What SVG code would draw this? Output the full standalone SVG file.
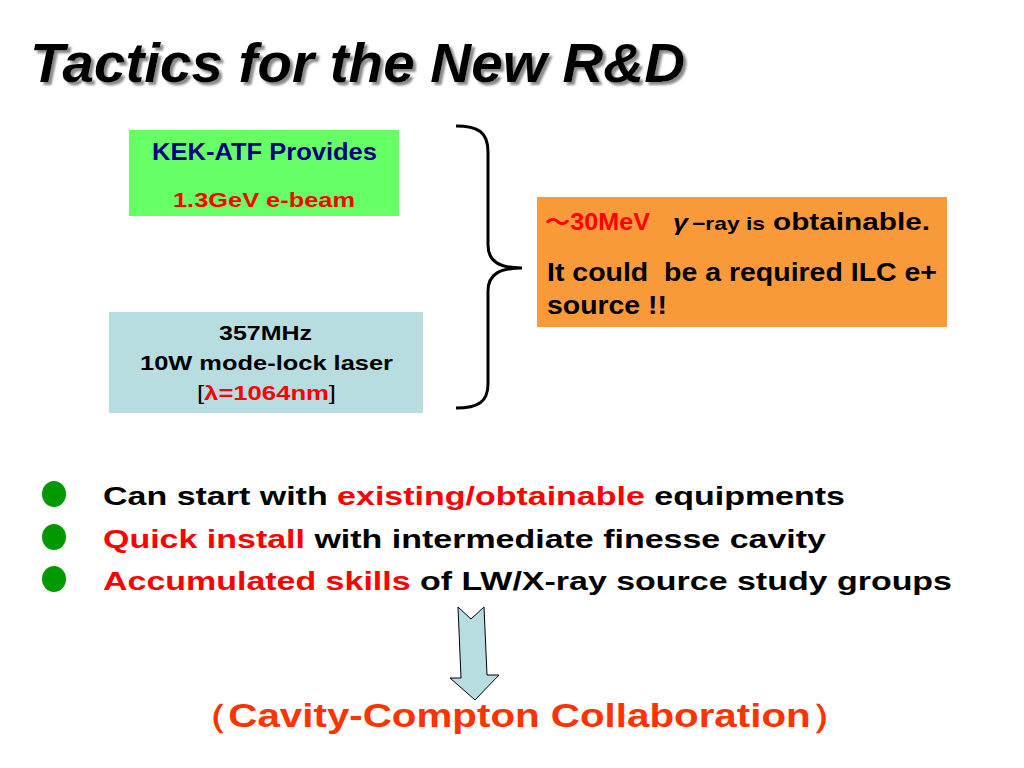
<svg xmlns="http://www.w3.org/2000/svg" width="1024" height="768" viewBox="0 0 1024 768">
<defs>
<filter id="shadow" x="-5%" y="-20%" width="110%" height="140%">
<feDropShadow dx="3" dy="3" stdDeviation="0.8" flood-color="#8a8a8a" flood-opacity="1"/>
</filter>
</defs>
<style>
text{font-family:"Liberation Sans",Arial,sans-serif;font-weight:bold}
.red{fill:#FF0000}
.bul{fill:#009900}
.lst{font-size:26px}
.box{font-size:21px}
.org{font-size:25px}
</style>
<rect width="1024" height="768" fill="#fff"/>
<g id="title">
<text x="30" y="82" font-size="56" font-style="italic" fill="#000" filter="url(#shadow)" textLength="655" lengthAdjust="spacingAndGlyphs">Tactics for the New R&amp;D</text>
</g>
<g id="kek">
<rect x="129" y="130" width="270" height="86" fill="#66FF66"/>
<text x="152" y="160" font-size="23" fill="#000080" textLength="225" lengthAdjust="spacingAndGlyphs">KEK-ATF Provides</text>
<text x="173" y="207" font-size="21" class="red" textLength="182" lengthAdjust="spacingAndGlyphs">1.3GeV e-beam</text>
</g>
<g id="laser">
<rect x="109" y="312" width="314" height="101" fill="#B7DDE0"/>
<text x="219" y="340" class="box" textLength="93" lengthAdjust="spacingAndGlyphs">357MHz</text>
<text x="140" y="370" class="box" textLength="253" lengthAdjust="spacingAndGlyphs">10W mode-lock laser</text>
<text x="197" y="400" class="box" textLength="139" lengthAdjust="spacingAndGlyphs"><tspan font-weight="normal">[</tspan><tspan class="red">λ=1064nm</tspan><tspan font-weight="normal">]</tspan></text>
</g>
<g id="connectors">
<path d="M456,126 C478,126 488,132 488,152 L488,245 C488,262 500,268 522,268 C500,268 488,274 488,291 L488,384 C488,402 478,408 456,408" fill="none" stroke="#000" stroke-width="3"/>
<path d="M458,607 L471,619 L484,607 L487,675 L499,675 L475,700 L450,678 L461,678 Z" fill="#B7DDE0" stroke="#000" stroke-width="1"/>
</g>
<g id="result">
<rect x="537" y="197" width="410" height="130" fill="#F99A3A"/>
<text x="545" y="230" font-size="23" class="red" textLength="105" lengthAdjust="spacingAndGlyphs"><tspan font-family="'Noto Sans CJK JP',sans-serif">～</tspan>30MeV</text>
<text x="673" y="230" font-size="23" font-style="italic" font-weight="normal" font-family="'Noto Sans CJK JP',sans-serif" textLength="15" lengthAdjust="spacingAndGlyphs">γ</text>
<text x="692" y="230" font-size="19" textLength="73" lengthAdjust="spacingAndGlyphs">−ray is</text>
<text x="773" y="230" font-size="23" textLength="157" lengthAdjust="spacingAndGlyphs">obtainable.</text>
<text x="547" y="281" class="org" xml:space="preserve" textLength="390" lengthAdjust="spacingAndGlyphs">It could  be a required ILC e+</text>
<text x="547" y="314" class="org" textLength="120" lengthAdjust="spacingAndGlyphs">source !!</text>
</g>
<g id="bullets">
<ellipse cx="54" cy="494" rx="12" ry="13" class="bul"/>
<ellipse cx="54" cy="537" rx="12" ry="13" class="bul"/>
<ellipse cx="54" cy="579" rx="12" ry="13" class="bul"/>
<text x="103" y="505" class="lst" textLength="742" lengthAdjust="spacingAndGlyphs">Can start with <tspan class="red">existing/obtainable</tspan> equipments</text>
<text x="103" y="548" class="lst" textLength="723" lengthAdjust="spacingAndGlyphs"><tspan class="red">Quick install</tspan> with intermediate finesse cavity</text>
<text x="103" y="590" class="lst" textLength="849" lengthAdjust="spacingAndGlyphs"><tspan class="red">Accumulated skills</tspan> of LW/X-ray source study groups</text>
</g>
<g id="collab">
<text x="188" y="727" font-size="33" fill="#FF3300" textLength="663" lengthAdjust="spacingAndGlyphs">（Cavity-Compton Collaboration）</text>
</g>
</svg>
